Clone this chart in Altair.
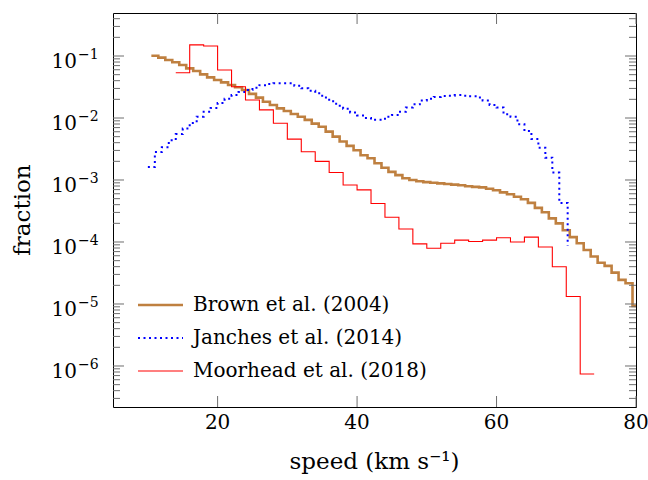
import altair as alt
import pandas as pd

FONT = "DejaVu Serif"
TICK = "#6e6e6e"

names = ["Brown et al. (2004)", "Janches et al. (2014)", "Moorhead et al. (2018)"]
colors = ["#bf8040", "#0000ff", "#ff0000"]
widths = [2.6, 2.0, 1.1]
dashes = [[1, 0], [2, 3.5], [1, 0]]

# Brown et al. (2004): 1 km/s bins, left edges 10.5 ... 79.5, last bin cut at 80
brown_edges = [10.5 + i for i in range(70)] + [80.0]
brown_vals = [
    0.101, 0.0940, 0.0861, 0.0791, 0.0716, 0.0632, 0.0573, 0.0506, 0.0453, 0.0410,
    0.0376, 0.0340, 0.0313, 0.0283, 0.0245, 0.0213, 0.0183, 0.0162, 0.0143, 0.0130,
    0.0116, 0.0105, 0.00933, 0.00813, 0.00724, 0.00603, 0.00501, 0.00417, 0.00355, 0.00302,
    0.00251, 0.00224, 0.00186, 0.00158, 0.00135, 0.00120, 0.00107, 0.00100, 0.000955, 0.000923,
    0.000902, 0.000881, 0.000861, 0.000841, 0.000822, 0.000794, 0.000776, 0.000759, 0.000724, 0.000684,
    0.000631, 0.000589, 0.000537, 0.000490, 0.000427, 0.000355, 0.000302, 0.000240, 0.000200, 0.000155,
    0.000120, 0.0000955, 0.0000741, 0.0000582, 0.0000462, 0.0000412, 0.0000320, 0.0000245, 0.0000216, 0.00000933,
]

# Janches et al. (2014): 1 km/s bins from 10, ending at 70.2
blue_edges = [float(v) for v in range(10, 70)] + [70.2]
blue_vals = [
    0.00162, 0.00282, 0.00339, 0.00437, 0.00550, 0.00676, 0.00832, 0.0105, 0.0126, 0.0145,
    0.0174, 0.0204, 0.0234, 0.0263, 0.0282, 0.0309, 0.0339, 0.0355, 0.0363, 0.0363,
    0.0363, 0.0331, 0.0302, 0.0275, 0.0251, 0.0214, 0.0186, 0.0158, 0.0141, 0.0123,
    0.0110, 0.0100, 0.00933, 0.00933, 0.0105, 0.0112, 0.0126, 0.0148, 0.0166, 0.0191,
    0.0204, 0.0219, 0.0226, 0.0229, 0.0234, 0.0229, 0.0224, 0.0214, 0.0191, 0.0162,
    0.0148, 0.0115, 0.0105, 0.00794, 0.00617, 0.00457, 0.00331, 0.00229, 0.00132, 0.000427,
    0.0000871,
]

# Moorhead et al. (2018): 2 km/s bins, 14 ... 74
red_edges = [float(v) for v in range(14, 76, 2)]
red_vals = [
    0.0537, 0.151, 0.145, 0.0594, 0.0320, 0.0195, 0.0135, 0.00822, 0.00457, 0.00285,
    0.00200, 0.00132, 0.000832, 0.000692, 0.000417, 0.000251, 0.000162, 0.0000933, 0.0000794, 0.0000955,
    0.000107, 0.000102, 0.000107, 0.000117, 0.000100, 0.000120, 0.0000832, 0.0000398, 0.0000132, 0.000000741,
]

x_ticks = [20, 40, 60, 80]
y_major = [1e-6, 1e-5, 1e-4, 1e-3, 1e-2, 1e-1]
y_exp = ["\u22126", "\u22125", "\u22124", "\u22123", "\u22122", "\u22121"]

Y_MIN, Y_MAX = 2.18e-7, 0.494
y_minor = [k * 10.0 ** e for e in range(-7, 0) for k in range(2, 10) if Y_MIN <= k * 10.0 ** e <= Y_MAX]

W, H = 523, 394


def step_df(name, edges, vals):
    vals = list(vals)
    if len(vals) == len(edges) - 1:
        vals = vals + [vals[-1]]
    return pd.DataFrame({"series": name, "speed": edges, "fraction": vals,
                         "order": list(range(len(edges)))})


xscale = alt.Scale(domain=[5, 80], nice=False, zero=False)
yscale = alt.Scale(type="log", domain=[Y_MIN, Y_MAX], nice=False)

series = [(brown_edges, brown_vals), (blue_edges, blue_vals), (red_edges, red_vals)]
line_layers = []
for i, (edges, vals) in enumerate(series):
    line_layers.append(
        alt.Chart(step_df(names[i], edges, vals)).mark_line(
            interpolate="step-after", color=colors[i], strokeWidth=widths[i],
            strokeDash=dashes[i]).encode(
            x=alt.X("speed:Q", scale=xscale, axis=None),
            y=alt.Y("fraction:Q", scale=yscale, axis=None),
            order="order:Q",
        )
    )

df_ymaj = pd.DataFrame({"v": y_major, "exp": y_exp, "base": ["10"] * len(y_major)})
df_ymin = pd.DataFrame({"v": y_minor})
df_x = pd.DataFrame({"v": x_ticks, "lab": [str(v) for v in x_ticks]})


def yrule(d, x0, x1):
    return alt.Chart(d).mark_rule(color=TICK, strokeWidth=1).encode(
        y=alt.Y("v:Q", scale=yscale, axis=None), x=alt.value(x0), x2=alt.value(x1))


def xrule(y0, y1):
    return alt.Chart(df_x).mark_rule(color=TICK, strokeWidth=1).encode(
        x=alt.X("v:Q", scale=xscale, axis=None), y=alt.value(y0), y2=alt.value(y1))


ticks = [
    yrule(df_ymaj, 0, 11), yrule(df_ymin, 0, 7),
    yrule(df_ymaj, W - 11, W), yrule(df_ymin, W - 7, W),
    xrule(H - 11, H), xrule(0, 11),
]

xlab = alt.Chart(df_x).mark_text(align="center", baseline="middle", font=FONT,
                                 fontSize=20, color="black").encode(
    x=alt.X("v:Q", scale=xscale, axis=None), y=alt.value(H + 16), text="lab:N")

ylab_base = alt.Chart(df_ymaj).mark_text(align="right", baseline="alphabetic", font=FONT,
                                         fontSize=20, dy=12, color="black").encode(
    y=alt.Y("v:Q", scale=yscale, axis=None), x=alt.value(-36), text="base:N")
ylab_exp = alt.Chart(df_ymaj).mark_text(align="left", baseline="alphabetic", font=FONT,
                                        fontSize=14, dy=3, color="black").encode(
    y=alt.Y("v:Q", scale=yscale, axis=None), x=alt.value(-35), text="exp:N")

ytitle = alt.Chart(pd.DataFrame({"t": ["fraction"]})).mark_text(
    font=FONT, fontSize=23, angle=270, align="center", baseline="middle", color="black").encode(
    x=alt.value(-90), y=alt.value(H / 2), text="t:N")
xtitle = alt.Chart(pd.DataFrame({"t": ["speed (km s\u207b\u00b9)"]})).mark_text(
    font=FONT, fontSize=23, align="center", baseline="middle", color="black").encode(
    x=alt.value(W / 2), y=alt.value(449), text="t:N")

legend_layers = []
for i, name in enumerate(names):
    ly = 292 + 33 * i
    d = pd.DataFrame({"series": [name]})
    legend_layers.append(alt.Chart(d).mark_rule(color=colors[i], strokeWidth=widths[i],
                                                strokeDash=dashes[i]).encode(
        x=alt.value(25), x2=alt.value(70), y=alt.value(ly)))
    legend_layers.append(alt.Chart(d).mark_text(align="left", baseline="middle", font=FONT,
                                                fontSize=20, color="black").encode(
        x=alt.value(80), y=alt.value(ly), text="series:N"))

chart = alt.layer(*line_layers, *ticks, xlab, ylab_base, ylab_exp, ytitle, xtitle,
                  *legend_layers).properties(
    width=W, height=H,
    padding={"left": 113, "top": 13, "right": 12, "bottom": 73},
    autosize=alt.AutoSizeParams(type="none"),
    background="white",
).configure_view(stroke="black", strokeWidth=1)

chart.save("out.html", embed_options={"renderer": "svg", "actions": False})
